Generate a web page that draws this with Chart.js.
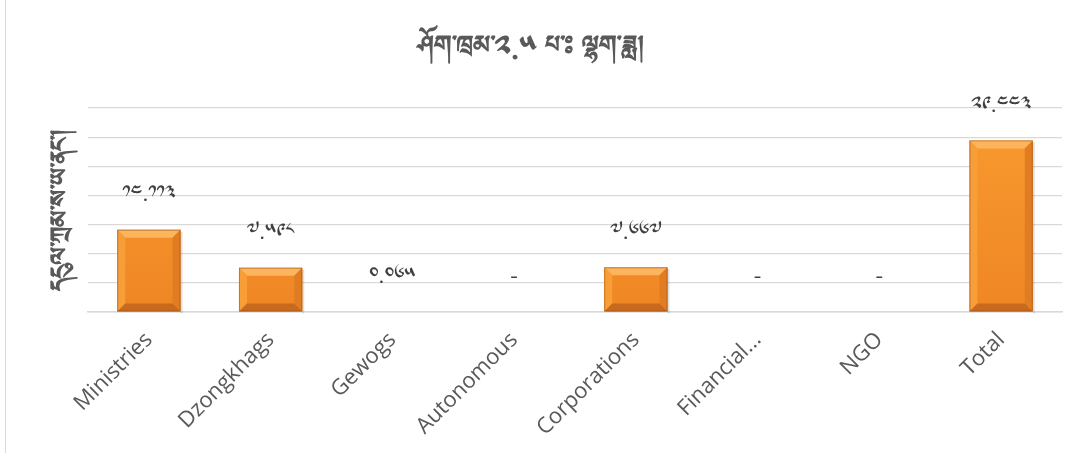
<!DOCTYPE html>
<html><head><meta charset="utf-8">
<script src="https://cdn.jsdelivr.net/npm/chart.js@4.4.1/dist/chart.umd.min.js"></script>
<style>html,body{margin:0;padding:0;background:#fff;overflow:hidden}canvas{display:block}</style>
</head><body><canvas id="c" width="1089" height="453"></canvas>
<script>
const categories = ['Ministries','Dzongkhags','Gewogs','Autonomous','Corporations','Financial...','NGO','Total'];
const values = [14.113, 7.598, 0.065, 0, 7.667, 0, 0, 29.443];
const yMin = 0, yMax = 35, yStep = 5;
const titleText = 'ཤོག་ཁྲམ་༢.༥ པ་ཿ ལྷག་ཟླ།';
const yTitle = 'དངུལ་ཀྲམ་ས་ཡ་ནང་།';
const tibDigits = '༠༡༢༣༤༥༦༧༨༩';
const TIB_FONT = '"Noto Sans Tibetan","Jomolhari","Microsoft Himalaya","DejaVu Sans",sans-serif';

function toTib(v){ if(v===0) return '-'; return v.toFixed(3).replace(/[0-9]/g,d=>tibDigits[+d]); }

const frame = {
  id:'frame',
  beforeDraw(chart){
    const c=chart.ctx; c.save(); c.strokeStyle='#D9D9D9'; c.lineWidth=1;
    c.beginPath(); c.moveTo(5.5,0); c.lineTo(5.5,453); c.stroke(); c.restore();
  }
};

const bevel = {
  id:'bevel',
  afterDatasetsDraw(chart){
    const c=chart.ctx; const meta=chart.getDatasetMeta(0);
    c.save();
    meta.data.forEach((el,i)=>{
      const h=el.base-el.y; if(h<2) return;
      const x0=el.x-el.width/2, x1=el.x+el.width/2, y0=el.y, y1=el.base;
      const b=Math.min(8,h/3);
      c.fillStyle='rgba(0,0,0,0.12)'; c.fillRect(x1,y0+2,2,h);
      const poly=(pts,col)=>{c.beginPath();c.moveTo(pts[0][0],pts[0][1]);for(let k=1;k<pts.length;k++)c.lineTo(pts[k][0],pts[k][1]);c.closePath();c.fillStyle=col;c.fill();};
      poly([[x0,y0],[x1,y0],[x1-b,y0+b],[x0+b,y0+b]],'#FCB55C');
      poly([[x0,y0],[x0+b,y0+b],[x0+b,y1-b],[x0,y1]],'#F89E38');
      poly([[x1,y0],[x1,y1],[x1-b,y1-b],[x1-b,y0+b]],'#E07C22');
      poly([[x0,y1],[x1,y1],[x1-b,y1-b],[x0+b,y1-b]],'#C9691D');
      c.strokeStyle='rgba(150,80,20,0.5)'; c.lineWidth=1; c.strokeRect(x0+0.5,y0+0.5,x1-x0-1,h-1);
    });
    c.fillStyle='#404040'; c.textAlign='center'; c.textBaseline='middle';
    c.font='21px '+TIB_FONT;
    meta.data.forEach((el,i)=>{ c.fillText(toTib(values[i]), el.x, el.y-34); });
    c.restore();
  }
};

new Chart(document.getElementById('c'),{
  type:'bar',
  data:{labels:categories,datasets:[{data:values,
    backgroundColor:(ctx)=>{
      const a=ctx.chart.chartArea; if(!a) return '#F7942A';
      const g=ctx.chart.ctx.createLinearGradient(0,a.top,0,a.bottom);
      g.addColorStop(0,'#FA9B30'); g.addColorStop(1,'#EE8624'); return g;
    },
    borderWidth:0, barPercentage:0.52, categoryPercentage:1}]},
  options:{
    responsive:false, animation:false,
    layout:{padding:{left:0,right:27,top:0,bottom:0}},
    plugins:{
      legend:{display:false}, tooltip:{enabled:false},
      title:{display:true,text:titleText,color:'#595959',font:{family:TIB_FONT,size:31,lineHeight:1.2},padding:{top:32,bottom:38.8}}
    },
    scales:{
      y:{min:yMin,max:yMax,ticks:{display:false,stepSize:yStep},
        grid:{color:'#D9D9D9',lineWidth:1.2,drawTicks:false},border:{display:false},
        title:{display:true,text:yTitle,color:'#595959',font:{family:TIB_FONT,size:30,weight:'bold',lineHeight:1.2},padding:{top:47,bottom:0}},
        afterFit(s){s.width=88;}},
      x:{grid:{display:false,drawTicks:false},border:{display:true,color:'#D9D9D9',width:1.5},
        ticks:{autoSkip:false,maxRotation:45,minRotation:45,color:'#595959',padding:15,font:{family:'"Open Sans",sans-serif',size:22}},
        afterFit(s){s.height=141;}}
    }
  },
  plugins:[frame,bevel]
});
</script></body></html>
